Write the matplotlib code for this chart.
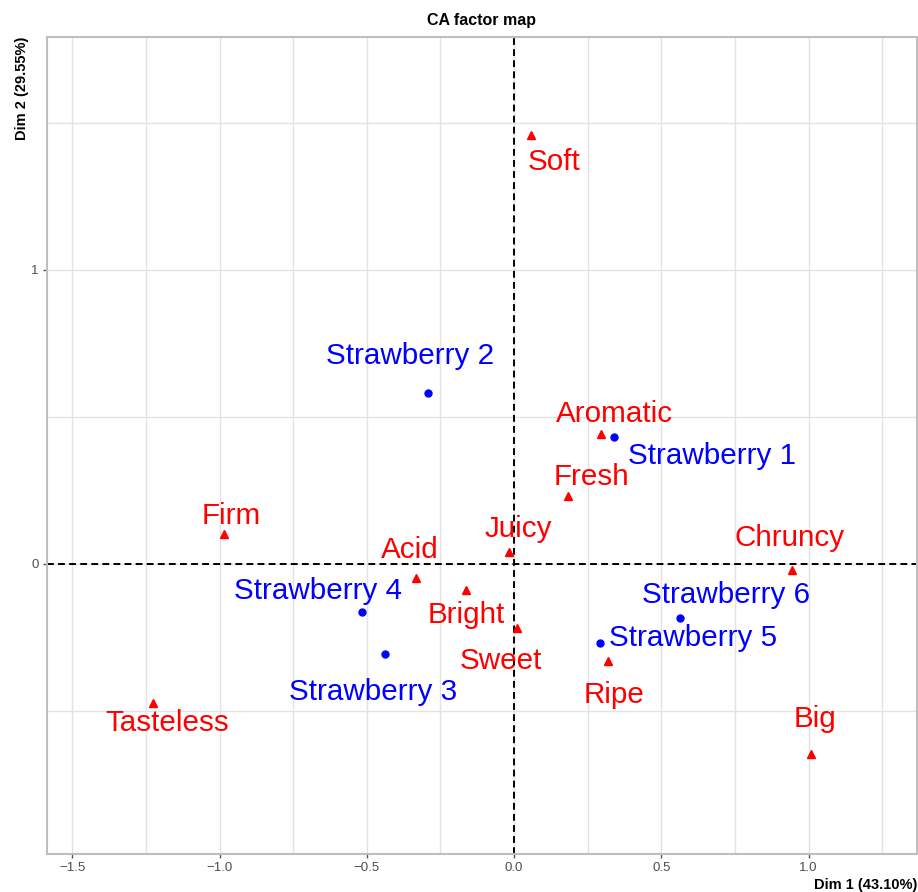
import matplotlib
matplotlib.use("Agg")
import matplotlib.pyplot as plt
import numpy as np

plt.rcParams['font.family'] = ['Liberation Sans', 'DejaVu Sans']

# row coordinates (strawberries)
row_names = ["Strawberry 1", "Strawberry 2", "Strawberry 3",
             "Strawberry 4", "Strawberry 5", "Strawberry 6"]
row_dim1 = [0.339, -0.291, -0.437, -0.515, 0.290, 0.562]
row_dim2 = [0.431, 0.580, -0.308, -0.163, -0.271, -0.186]

# column coordinates (attributes)
col_names = ["Soft", "Aromatic", "Fresh", "Firm", "Juicy", "Acid", "Chruncy",
             "Bright", "Sweet", "Ripe", "Tasteless", "Big"]
col_dim1 = [0.058, 0.295, 0.183, -0.985, -0.019, -0.332, 0.942,
            -0.164, 0.009, 0.320, -1.227, 1.009]
col_dim2 = [1.458, 0.441, 0.231, 0.101, 0.041, -0.047, -0.020,
            -0.090, -0.220, -0.330, -0.473, -0.647]

dim1_pct = 43.10
dim2_pct = 29.55

# label placement (offset in pixels from the point, repel-style)
row_offsets = {"Strawberry 1": (98, -19), "Strawberry 2": (-18, 37),
               "Strawberry 3": (-12, -38), "Strawberry 4": (-44, 21),
               "Strawberry 5": (94, 5), "Strawberry 6": (46, 23)}
col_offsets = {"Soft": (23, -27), "Aromatic": (14, 20), "Fresh": (23, 19),
               "Firm": (7, 18), "Juicy": (10, 23), "Acid": (-7, 28),
               "Chruncy": (-2, 32), "Bright": (0, -25), "Sweet": (-16, -33),
               "Ripe": (6, -34), "Tasteless": (15, -20), "Big": (4, 35)}

fig = plt.figure(figsize=(9.18, 8.92), dpi=100)
ax = fig.add_axes([47 / 918, 38 / 892, 870 / 918, 817 / 892])

ax.set_xlim(-1.586, 1.368)
ax.set_ylim(-0.988, 1.793)

ax.set_xticks([-1.5, -1.0, -0.5, 0.0, 0.5, 1.0])
ax.set_xticklabels(["\u22121.5", "\u22121.0", "\u22120.5", "0.0", "0.5", "1.0"])
ax.set_xticks([-1.25, -0.75, -0.25, 0.25, 0.75, 1.25], minor=True)
ax.set_yticks([0, 1])
ax.set_yticks([-0.5, 0.5, 1.5], minor=True)

ax.grid(True, which='both', color='#E3E3E3', linewidth=1.0)
ax.set_axisbelow(True)
for sp in ax.spines.values():
    sp.set_color('#BEBEBE')
    sp.set_linewidth(1.5)
ax.tick_params(which='major', length=3, width=1, color='#555555',
               labelcolor='#4D4D4D', labelsize=9.5, pad=3)
ax.tick_params(which='minor', length=0)

ax.axhline(0, color='black', linewidth=1.4, dashes=(3.5, 2.2), zorder=2)
ax.axvline(0, color='black', linewidth=1.4, dashes=(3.5, 2.2), zorder=2)

ax.plot(row_dim1, row_dim2, 'o', color='blue', markersize=5, zorder=3)
ax.plot(col_dim1, col_dim2, '^', color='red', markersize=5.5, zorder=3)

for name, x, y in zip(row_names, row_dim1, row_dim2):
    ax.annotate(name, (x, y), xytext=row_offsets[name], textcoords='offset pixels',
                ha='center', va='center', color='blue', fontsize=21.3, zorder=4)
for name, x, y in zip(col_names, col_dim1, col_dim2):
    ax.annotate(name, (x, y), xytext=col_offsets[name], textcoords='offset pixels',
                ha='center', va='center', color='red', fontsize=21.3, zorder=4)

ax.set_title("CA factor map", fontsize=11.5, fontweight='bold', pad=9)
ax.set_xlabel("Dim 1 (%.2f%%)" % dim1_pct, fontsize=10.5, fontweight='bold',
              loc='right', labelpad=3)
ax.set_ylabel("Dim 2 (%.2f%%)" % dim2_pct, fontsize=10.5, fontweight='bold',
              loc='top')
ax.yaxis.set_label_coords(-0.021, 1.0)

fig.savefig("out.png", dpi=100)
